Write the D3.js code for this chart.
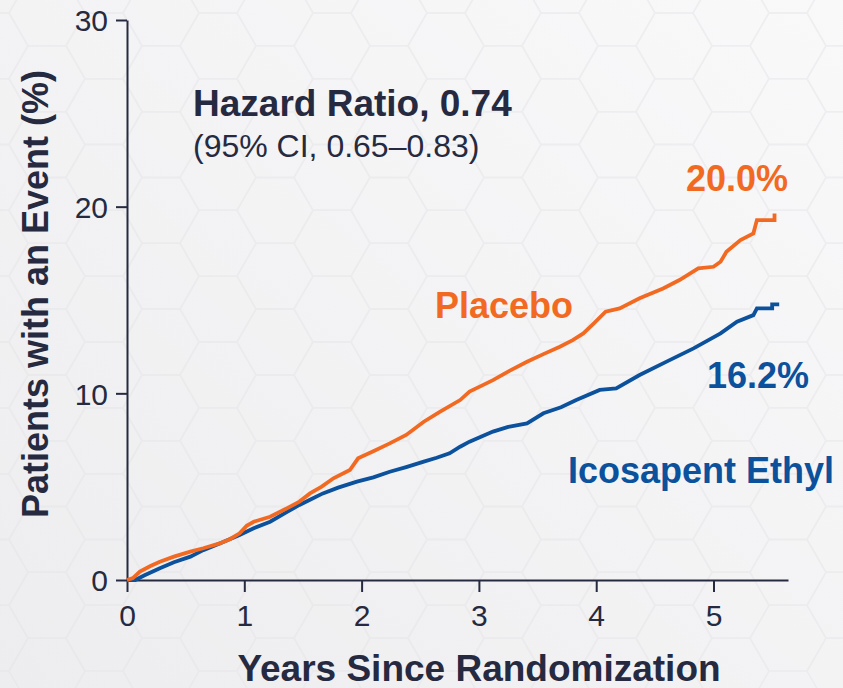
<!DOCTYPE html>
<html>
<head>
<meta charset="utf-8">
<script src="https://cdn.jsdelivr.net/npm/d3@7"></script>
<style>
  html, body { margin: 0; padding: 0; background: #f4f4f6; }
  svg { display: block; }
  text { font-family: "Liberation Sans", Arial, sans-serif; }
</style>
</head>
<body>
<div id="chart"></div>
<script>
// KM cumulative incidence (years, percent)
const placeboYears = [0, 0.05, 0.11, 0.2, 0.28, 0.4, 0.54, 0.65, 0.79, 0.88, 0.96, 1.02, 1.08, 1.22, 1.35, 1.47, 1.56, 1.66, 1.76, 1.9, 1.97, 2.1, 2.24, 2.38, 2.53, 2.67, 2.84, 2.92, 3.02, 3.12, 3.26, 3.41, 3.55, 3.69, 3.8, 3.89, 3.98, 4.08, 4.2, 4.37, 4.57, 4.71, 4.87, 5.0, 5.06, 5.11, 5.23, 5.34, 5.37, 5.52, 5.52];
const placeboPct = [0, 0.1, 0.45, 0.75, 0.98, 1.25, 1.52, 1.7, 1.96, 2.2, 2.5, 2.9, 3.12, 3.39, 3.8, 4.2, 4.64, 5.0, 5.45, 5.89, 6.52, 6.9, 7.32, 7.77, 8.48, 9.02, 9.64, 10.09, 10.4, 10.71, 11.2, 11.69, 12.1, 12.5, 12.85, 13.21, 13.75, 14.37, 14.55, 15.09, 15.62, 16.07, 16.7, 16.78, 17.05, 17.58, 18.21, 18.57, 19.28, 19.28, 19.64];

const icosaYears = [0, 0.07, 0.15, 0.28, 0.4, 0.54, 0.65, 0.79, 0.96, 1.08, 1.22, 1.35, 1.47, 1.56, 1.67, 1.8, 1.96, 2.1, 2.24, 2.38, 2.53, 2.64, 2.75, 2.84, 2.92, 3.12, 3.25, 3.41, 3.55, 3.7, 3.83, 4.03, 4.17, 4.37, 4.6, 4.83, 5.06, 5.2, 5.34, 5.37, 5.5, 5.5, 5.56];
const icosaPct = [0, 0, 0.25, 0.63, 0.95, 1.25, 1.6, 1.96, 2.41, 2.77, 3.12, 3.6, 4.02, 4.3, 4.64, 4.95, 5.27, 5.5, 5.8, 6.05, 6.34, 6.55, 6.79, 7.14, 7.41, 7.95, 8.2, 8.39, 8.93, 9.25, 9.64, 10.18, 10.27, 10.98, 11.7, 12.41, 13.21, 13.84, 14.19, 14.55, 14.55, 14.77, 14.77];

const xTicks = [0, 1, 2, 3, 4, 5];
const yTicks = [0, 10, 20, 30];

const width = 843;
const height = 688;
const ink = '#262a40';
const orange = '#f26a22';
const blue = '#0b519c';

const svg = d3.select('#chart')
    .append('svg')
    .attr('width', width)
    .attr('height', height);

// soft grey backdrop
const defs = svg.append('defs');
const grad = defs.append('linearGradient')
    .attr('id', 'bg')
    .attr('x1', '1').attr('y1', '0')
    .attr('x2', '0').attr('y2', '1');
grad.append('stop').attr('offset', '0%').attr('stop-color', '#f9f9fa');
grad.append('stop').attr('offset', '100%').attr('stop-color', '#ededef');
svg.append('rect')
    .attr('width', width)
    .attr('height', height)
    .attr('fill', 'url(#bg)');

// faint honeycomb
const hexR = 38;
const hexPts = d3.range(6).map((k) => {
    const a = Math.PI / 3 * k;
    return [hexR * Math.cos(a), hexR * Math.sin(a)];
});
const hexG = svg.append('g').attr('opacity', 0.45);
for (let col = 0; col < 16; col ++) {
    for (let row = 0; row < 11; row ++) {
        const cx = col * hexR * 1.5 - 10;
        const cy = row * hexR * Math.sqrt(3) + (col % 2 ? hexR * Math.sqrt(3) / 2 : 0) - 20;
        hexG.append('polygon')
            .attr('points', hexPts.map((p) => [p[0] + cx, p[1] + cy].join(',')).join(' '))
            .attr('fill', 'none')
            .attr('stroke', '#e4e4e8')
            .attr('stroke-width', 1.5);
    }
}

const x = d3.scaleLinear()
    .domain([0, 5.635])
    .range([127, 788]);

const y = d3.scaleLinear()
    .domain([0, 30])
    .range([580, 20]);

const xAxis = svg.append('g')
    .attr('transform', 'translate(0,580)')
    .call(d3.axisBottom(x).tickValues(xTicks).tickFormat(d3.format('d'))
        .tickSize(12).tickSizeOuter(0).tickPadding(13));

const yAxis = svg.append('g')
    .attr('transform', 'translate(127,0)')
    .call(d3.axisLeft(y).tickValues(yTicks).tickFormat(d3.format('d'))
        .tickSize(11).tickSizeOuter(0).tickPadding(8));

[xAxis, yAxis].forEach((g) => {
    g.select('.domain').attr('stroke', ink).attr('stroke-width', 2);
    g.selectAll('.tick line').attr('stroke', ink).attr('stroke-width', 2);
    g.selectAll('.tick text')
        .attr('fill', ink)
        .style('font-size', '30px')
        .style('font-family', '"Liberation Sans", Arial, sans-serif');
});
yAxis.selectAll('.tick text').attr('dy', '0.36em');

const line = d3.line()
    .x((d) => x(d[0]))
    .y((d) => y(d[1]));

const series = [
    { years: icosaYears, pct: icosaPct, color: blue },
    { years: placeboYears, pct: placeboPct, color: orange },
];

series.forEach((s) => {
    svg.append('path')
        .datum(s.years.map((t, i) => [t, s.pct[i]]))
        .attr('d', line)
        .attr('fill', 'none')
        .attr('stroke', s.color)
        .attr('stroke-width', 3.8)
        .attr('stroke-linejoin', 'miter');
});

// axis titles
svg.append('text')
    .attr('x', 479)
    .attr('y', 681)
    .attr('text-anchor', 'middle')
    .attr('fill', ink)
    .style('font-size', '37px')
    .style('font-weight', 'bold')
    .text('Years Since Randomization');

svg.append('text')
    .attr('transform', 'translate(48,294) rotate(-90)')
    .attr('text-anchor', 'middle')
    .attr('fill', ink)
    .style('font-size', '36px')
    .style('font-weight', 'bold')
    .text('Patients with an Event (%)');

// annotations
svg.append('text')
    .attr('x', 193)
    .attr('y', 116)
    .attr('fill', ink)
    .style('font-size', '37px')
    .style('font-weight', 'bold')
    .text('Hazard Ratio, 0.74');

svg.append('text')
    .attr('x', 193)
    .attr('y', 157)
    .attr('fill', ink)
    .style('font-size', '32px')
    .text('(95% CI, 0.65\u20130.83)');

const labels = [
    { text: 'Placebo', x: 435, y: 318, color: orange },
    { text: '20.0%', x: 686, y: 191, color: orange },
    { text: '16.2%', x: 707, y: 388, color: blue },
    { text: 'Icosapent Ethyl', x: 568, y: 483, color: blue },
];

svg.selectAll('.lbl')
    .data(labels)
    .enter()
    .append('text')
    .attr('class', 'lbl')
    .attr('x', (d) => d.x)
    .attr('y', (d) => d.y)
    .attr('fill', (d) => d.color)
    .style('font-size', '36px')
    .style('font-weight', 'bold')
    .text((d) => d.text);
</script>
</body>
</html>
